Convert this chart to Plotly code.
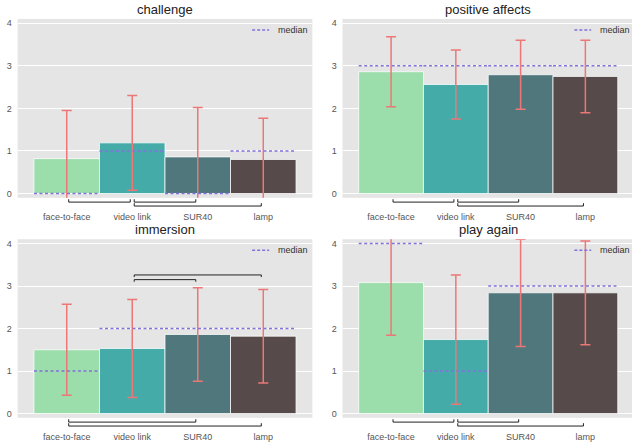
import plotly.graph_objects as go

categories = ["face-to-face", "video link", "SUR40", "lamp"]
bar_colors = ["#9BDDAB", "#44ABA8", "#50777C", "#564A4A"]
titles = ["challenge", "positive affects", "immersion", "play again"]
y_ticks = [0, 1, 2, 3, 4]

challenge_mean = [0.82, 1.19, 0.86, 0.80]
challenge_sd = [1.13, 1.11, 1.16, 0.97]
challenge_median = [0, 1, 0, 1]

positive_mean = [2.86, 2.56, 2.79, 2.75]
positive_sd = [0.82, 0.81, 0.81, 0.85]
positive_median = [3, 3, 3, 3]

immersion_mean = [1.50, 1.53, 1.86, 1.82]
immersion_sd = [1.07, 1.15, 1.10, 1.10]
immersion_median = [1, 2, 2, 2]

again_mean = [3.08, 1.74, 2.84, 2.84]
again_sd = [1.24, 1.52, 1.26, 1.22]
again_median = [4, 1, 3, 3]

# significance brackets below the axis: (from, to, level)
challenge_below = [(0, 1, 1), (1, 2, 1), (1, 3, 2)]
positive_below = [(0, 1, 1), (1, 2, 1), (1, 3, 2)]
immersion_below = [(0, 2, 1), (0, 3, 2)]
again_below = [(0, 1, 1), (1, 2, 1), (1, 3, 2)]
# significance brackets above the bars: (from, to, height)
immersion_above = [(1, 2, 3.15), (1, 3, 3.26)]

FONT = "Liberation Sans, Arial, sans-serif"
ERR = "#EC7777"
MED = "#8272DC"

W, H = 632, 446
x_dom_left = [17.6 / W, 312.4 / W]
x_dom_right = [342.5 / W, 1.0]
y_dom_top = [1 - 197.7 / H, 1 - 18 / H]
y_dom_bot = [1 - 418.7 / H, 1 - 239.3 / H]
x_range_left = [-0.75, 3.75]
x_range_right = [-0.75, 3.72]

panels = [
    (challenge_mean, challenge_sd, challenge_median, challenge_below, []),
    (positive_mean, positive_sd, positive_median, positive_below, []),
    (immersion_mean, immersion_sd, immersion_median, immersion_below, immersion_above),
    (again_mean, again_sd, again_median, again_below, []),
]

fig = go.Figure()
shapes = []
annotations = []
layout = {}

for k, (mean, sd, med, below, above) in enumerate(panels):
    sfx = "" if k == 0 else str(k + 1)
    xa, ya = "x" + sfx, "y" + sfx
    xs = list(range(len(categories)))
    fig.add_trace(go.Bar(
        x=xs, y=mean, width=1,
        marker=dict(color=bar_colors, line=dict(color="rgba(255,255,255,0.75)", width=1)),
        error_y=dict(type="data", array=sd, color=ERR, thickness=1.5, width=5),
        xaxis=xa, yaxis=ya, showlegend=False, hoverinfo="skip",
    ))
    mx, my = [], []
    for i, m in enumerate(med):
        mx += [i - 0.5, i + 0.5, None]
        my += [m, m, None]
    fig.add_trace(go.Scatter(
        x=mx, y=my, mode="lines",
        line=dict(color=MED, width=1.5, dash="3px,2.5px"),
        xaxis=xa, yaxis=ya, showlegend=False, hoverinfo="skip",
    ))

    left = (k % 2 == 0)
    top = (k < 2)
    layout["xaxis" + sfx] = dict(
        domain=x_dom_left if left else x_dom_right,
        range=x_range_left if left else x_range_right,
        anchor=ya, tickvals=xs, ticktext=categories,
        showgrid=False, zeroline=False, showline=False,
        ticks="outside", ticklen=10, tickcolor="rgba(0,0,0,0)",
        tickfont=dict(family=FONT, size=9, color="#555555"),
    )
    layout["yaxis" + sfx] = dict(
        domain=y_dom_top if top else y_dom_bot,
        range=[-0.1, 4.1], anchor=xa, tickvals=y_ticks,
        showgrid=True, gridcolor="white", gridwidth=1,
        zeroline=False, showline=False,
        ticks="outside", ticklen=3, tickcolor="rgba(0,0,0,0)",
        tickfont=dict(family=FONT, size=9, color="#555555"),
    )

    # title
    annotations.append(dict(
        text=titles[k], xref=xa, yref=ya + " domain",
        x=(x_range_left[0] + x_range_left[1]) / 2, y=1.0,
        xanchor="center", yanchor="bottom", showarrow=False,
        font=dict(family=FONT, size=13, color="#222222"),
    ))

    # legend-like entry
    shapes.append(dict(type="line", xref=xa, yref=ya, x0=2.83, x1=3.09, y0=3.84, y1=3.84,
                       line=dict(color=MED, width=1.5, dash="3px,2px")))
    annotations.append(dict(
        text="median", xref=xa, yref=ya, x=3.19, y=3.84,
        xanchor="left", yanchor="middle", showarrow=False,
        font=dict(family=FONT, size=9, color="#333333"),
    ))

    # brackets below axis
    for (i, j, lvl) in below:
        yh = -0.024 if lvl == 1 else -0.046
        yt = yh + 0.016
        x0, x1 = i + 0.03, j - 0.03
        yr = ya + " domain"
        for (a0, b0, a1, b1) in [(x0, yt, x0, yh), (x0, yh, x1, yh), (x1, yh, x1, yt)]:
            shapes.append(dict(type="line", xref=xa, yref=yr, x0=a0, y0=b0, x1=a1, y1=b1,
                               line=dict(color="#222222", width=1)))
    for (i, j, hgt) in above:
        yt = hgt - 0.05
        x0, x1 = i + 0.03, j - 0.03
        for (a0, b0, a1, b1) in [(x0, yt, x0, hgt), (x0, hgt, x1, hgt), (x1, hgt, x1, yt)]:
            shapes.append(dict(type="line", xref=xa, yref=ya, x0=a0, y0=b0, x1=a1, y1=b1,
                               line=dict(color="#222222", width=1)))

fig.update_layout(
    width=W, height=H, margin=dict(l=0, r=0, t=0, b=0),
    paper_bgcolor="white", plot_bgcolor="#E5E5E5",
    shapes=shapes, annotations=annotations, showlegend=False,
    font=dict(family=FONT),
    **layout,
)
fig.write_html(
    "out.html",
    config={"displayModeBar": False},
    post_script="document.body.style.margin='0';document.body.style.overflow='hidden';",
)
